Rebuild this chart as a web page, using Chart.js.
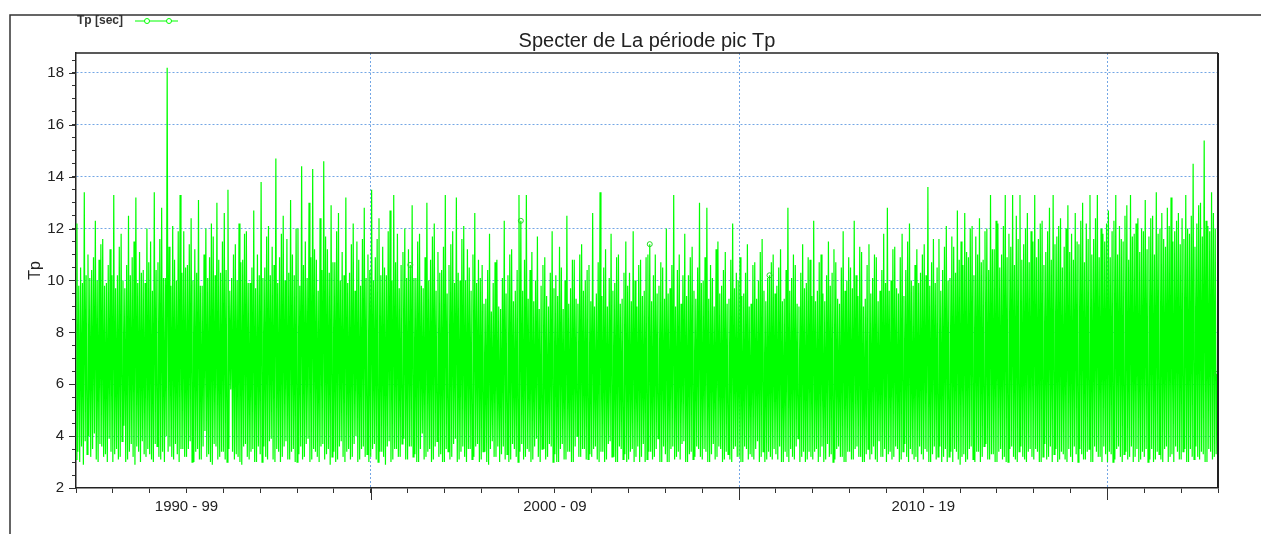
<!DOCTYPE html>
<html>
<head>
<meta charset="utf-8">
<script src="https://cdn.jsdelivr.net/npm/chart.js@4"></script>
<style>
  html, body { margin: 0; padding: 0; background: #fff; }
  #wrap { width: 1261px; height: 534px; position: relative; }
</style>
</head>
<body>
<div id="wrap"><canvas id="chartTp"></canvas></div>
<script>
// Tp series, 40 readings per year, one row per year (1992 .. 2022)
const startYear = 1992;
const endYear = 2023;
const samplesPerYear = 40;
const tpValues = [
  3.1,12.2,3.4,9.8,3.0,10.5,3.6,9.9,2.9,13.4,3.8,10.2,3.3,11.0,4.0,10.1,3.2,10.4,3.5,10.9,4.1,12.3,3.1,10.0,3.0,10.8,3.7,11.4,3.6,11.6,3.2,9.8,3.3,9.9,3.0,10.6,3.9,11.2,3.4,10.2,
  3.0,13.3,3.3,9.7,3.5,10.2,3.1,11.3,3.2,11.8,3.8,10.0,4.4,9.7,3.0,10.6,3.1,12.5,3.4,10.2,3.7,10.9,3.2,11.5,2.9,13.2,3.6,9.9,3.4,11.1,3.0,10.3,3.8,10.4,3.3,9.9,3.2,12.0,3.5,10.7,
  3.3,11.5,3.1,9.6,3.0,13.4,3.7,10.4,3.6,10.7,3.2,11.6,3.1,12.8,3.4,10.1,3.0,10.1,4.0,18.2,3.4,11.3,3.6,9.8,3.2,12.1,3.1,10.8,3.7,10.0,3.3,11.9,3.0,13.3,3.5,10.3,3.5,11.9,3.2,10.5,
  3.2,10.6,3.5,11.4,3.8,12.4,3.0,10.0,3.0,11.2,3.4,10.3,3.5,13.1,3.1,9.8,3.1,9.8,3.6,11.0,4.2,12.0,3.2,10.1,3.3,10.9,3.0,12.2,2.9,11.7,3.7,10.2,3.6,13.0,3.1,10.8,3.2,10.3,3.4,11.5,
  3.4,12.6,3.1,10.4,3.0,13.5,3.5,9.6,5.8,10.1,3.4,11.0,3.1,11.4,3.3,10.0,3.2,12.2,3.0,10.7,2.9,10.8,3.6,11.8,3.7,11.9,3.2,9.9,3.1,9.9,3.4,10.5,3.5,12.7,3.0,9.7,3.0,11.0,3.6,10.2,
  3.3,13.8,3.0,10.1,3.6,10.5,3.2,11.7,3.1,12.1,3.8,10.2,3.9,11.3,3.1,10.6,3.0,14.7,3.5,9.9,3.4,10.9,3.0,11.8,3.2,12.5,3.6,10.0,3.8,11.6,3.1,10.3,3.1,13.1,3.4,11.0,3.5,10.2,3.0,12.0,
  3.0,12.0,3.3,9.8,3.6,14.4,3.1,10.6,3.2,11.5,3.7,10.1,3.9,13.0,3.0,10.9,3.1,14.3,3.5,11.2,3.4,10.8,3.2,9.6,3.0,12.4,3.6,10.4,3.7,14.6,3.1,11.7,3.3,11.2,3.5,10.3,2.9,12.9,3.2,10.7,
  3.4,10.7,3.0,11.9,3.1,12.6,3.6,10.0,3.8,11.1,3.2,10.2,3.0,13.2,3.4,9.9,3.5,10.3,3.1,11.4,3.2,12.2,3.7,9.6,4.0,11.5,3.0,10.8,3.1,9.8,3.5,11.6,3.6,12.8,3.2,10.1,3.3,11.0,3.0,10.4,
  3.2,13.5,3.5,10.0,3.7,10.9,3.1,11.6,3.0,12.4,3.4,10.2,3.4,11.3,3.2,10.5,2.9,10.2,3.6,11.9,3.8,12.7,3.0,10.0,3.1,13.3,3.5,10.7,3.5,11.8,3.2,9.7,3.2,10.6,3.7,11.1,3.9,12.0,3.1,10.1,
  3.1,11.2,3.6,10.6,3.6,12.9,3.2,10.1,3.3,10.1,3.0,11.5,3.0,11.8,3.5,9.8,4.1,9.7,3.1,10.9,3.2,13.0,3.4,10.0,3.5,10.8,3.0,11.7,3.1,12.2,3.6,9.6,3.8,11.1,3.2,10.3,3.3,10.4,3.0,11.3,
  3.0,13.3,3.5,9.5,3.4,10.6,3.1,11.4,3.2,11.9,3.7,9.9,3.9,13.2,3.0,10.3,3.1,10.0,3.4,11.6,3.6,12.1,3.2,10.0,3.0,11.2,3.5,10.5,3.5,9.6,3.1,11.0,3.2,12.6,3.6,9.9,3.7,10.8,3.0,10.1,
  3.1,10.6,3.4,9.1,3.4,9.3,3.0,10.4,2.9,11.8,3.5,8.8,3.8,9.9,3.2,10.7,3.2,10.8,3.6,9.0,3.0,8.9,3.3,10.1,3.6,12.3,3.1,9.5,3.3,10.2,3.0,11.0,3.1,11.2,3.7,9.2,3.5,9.6,3.2,10.4,
  3.0,13.3,3.4,12.3,3.7,9.6,3.1,10.8,3.2,13.3,3.5,9.3,3.4,10.4,3.0,11.1,3.1,9.2,3.6,10.0,3.9,11.7,3.2,8.9,3.0,9.8,3.5,10.6,3.5,10.9,3.1,9.4,3.2,9.0,3.7,10.3,3.6,11.9,3.0,9.7,
  3.3,10.2,3.0,9.4,3.0,11.3,3.5,10.5,3.7,8.9,3.1,10.0,3.1,12.5,3.4,9.1,3.4,9.7,3.0,10.8,3.0,10.8,3.6,9.3,4.0,9.1,3.2,11.0,3.2,11.4,3.5,9.6,3.5,10.0,3.1,10.4,3.1,10.6,3.3,9.2,
  3.2,12.6,3.5,9.0,3.6,9.5,3.1,10.7,3.0,13.4,3.4,9.4,3.4,10.5,3.0,11.2,3.1,9.0,3.7,10.1,3.8,11.8,3.2,9.6,3.2,9.9,3.0,10.9,3.0,11.0,3.6,9.1,3.5,9.3,3.1,10.3,3.3,11.5,3.0,9.8,
  3.1,10.3,3.4,9.2,3.5,11.9,3.0,10.0,3.2,9.0,3.6,10.6,3.0,10.8,3.2,9.4,3.7,9.6,3.0,10.9,3.1,11.0,3.4,11.4,3.4,9.2,3.1,10.2,3.2,11.0,3.5,9.5,3.9,9.8,3.0,10.7,3.0,10.5,3.6,9.3,
  3.3,12.0,3.0,9.5,3.0,9.7,3.5,10.6,3.6,13.3,3.1,9.0,3.2,10.4,3.4,11.0,3.1,9.1,3.7,10.2,3.8,11.8,3.0,9.4,3.0,10.2,3.3,10.9,3.4,11.3,3.1,9.6,3.2,9.3,3.6,10.5,3.5,13.0,3.2,9.9,
  3.1,10.0,3.5,10.9,3.4,12.8,3.0,9.3,3.0,10.6,3.3,10.1,3.7,9.0,3.1,11.2,3.2,11.5,3.6,9.5,3.5,9.8,3.0,10.4,3.1,11.1,3.4,9.1,3.3,9.3,3.1,10.8,3.0,12.2,3.5,9.7,3.6,10.3,3.2,10.0,
  3.2,10.9,3.0,9.4,3.0,9.5,3.6,10.3,3.5,11.4,3.1,9.0,3.3,9.1,3.2,10.6,3.1,10.7,3.5,9.3,3.8,10.0,3.0,11.1,3.2,11.6,3.4,9.6,3.0,9.2,3.1,10.1,3.4,10.2,3.2,10.7,3.1,11.0,3.5,9.5,
  3.3,9.8,3.1,10.5,3.6,11.2,3.0,9.2,3.0,9.3,3.4,10.4,3.2,12.8,3.0,9.6,3.5,10.1,3.2,11.0,3.1,10.6,3.6,9.1,3.9,9.0,3.0,10.3,3.2,11.4,3.4,9.7,3.0,9.9,3.1,10.9,3.4,10.8,3.2,9.4,
  3.1,12.3,3.4,9.2,3.5,9.6,3.0,10.7,3.2,11.0,3.6,9.5,3.0,9.2,3.1,10.2,3.7,11.5,3.2,9.8,3.3,10.3,3.0,11.2,3.1,10.7,3.5,9.3,3.6,9.1,3.2,10.5,3.2,11.9,3.0,9.6,3.0,10.0,3.4,10.9,
  3.4,10.5,3.1,9.7,3.1,12.3,3.5,10.2,3.6,9.4,3.2,11.3,3.2,11.1,3.0,9.0,3.0,9.3,3.3,10.6,3.5,11.4,3.1,9.5,3.3,10.1,3.6,11.0,3.1,10.9,3.0,9.2,3.8,9.6,3.2,10.4,3.2,11.8,3.5,9.9,
  3.0,12.8,3.3,9.6,3.4,10.0,3.1,11.2,3.2,11.3,3.6,9.7,3.5,9.5,3.0,10.9,3.1,11.8,3.4,9.4,3.7,10.4,3.2,11.5,3.0,12.2,3.5,10.0,3.3,9.8,3.1,10.6,3.2,11.2,3.0,9.9,3.6,10.3,3.3,11.0,
  3.1,11.4,3.5,10.2,3.4,13.6,3.0,9.8,3.0,10.7,3.3,11.6,3.6,9.9,3.1,10.5,3.2,11.6,3.6,9.6,3.0,10.4,3.2,11.3,3.5,12.1,3.0,10.0,3.2,10.1,3.4,11.7,3.0,11.3,3.5,10.3,3.4,12.7,3.1,10.8,
  2.9,11.5,3.2,10.6,3.3,12.6,3.0,11.1,3.1,10.9,3.5,12.0,3.6,12.1,3.1,10.2,3.0,11.7,3.4,11.0,3.4,12.4,3.0,10.7,3.2,10.8,3.6,11.9,3.7,12.0,3.1,10.4,3.1,13.3,3.3,11.2,3.3,11.2,3.0,12.3,
  3.0,12.2,3.4,10.5,3.5,11.0,3.1,12.1,3.2,13.3,3.0,10.9,3.0,11.8,3.5,11.3,3.6,13.3,3.2,10.6,3.1,12.5,3.0,11.6,3.4,13.3,3.6,10.8,3.2,11.4,3.1,12.0,3.0,12.6,3.4,10.7,3.5,11.9,3.2,11.5,
  3.1,13.3,3.5,10.9,3.4,11.6,3.0,12.2,3.0,12.3,3.2,10.6,3.7,11.1,3.1,11.9,3.2,12.8,3.6,10.8,3.0,13.3,3.3,11.4,3.5,11.7,3.0,12.1,3.1,12.4,3.4,10.5,3.3,11.3,3.1,12.0,3.0,12.9,3.5,11.1,
  3.2,11.8,3.0,10.8,3.6,12.6,3.3,11.5,3.0,11.4,3.5,12.3,3.3,13.0,3.1,10.7,3.1,12.2,3.4,11.6,3.5,13.3,3.0,11.0,3.0,11.6,3.6,12.4,3.4,13.3,3.2,10.9,3.2,12.0,3.0,11.8,3.6,11.5,3.3,12.2,
  3.0,12.7,3.4,10.9,3.3,11.9,3.0,12.3,3.1,13.3,3.5,11.0,3.6,12.1,3.2,11.6,3.0,11.5,3.3,12.5,3.4,12.9,3.1,10.8,3.2,13.3,3.6,11.7,3.0,11.8,3.2,12.2,3.5,12.4,3.0,11.1,3.1,12.0,3.4,11.9,
  3.2,13.1,3.5,11.2,3.0,11.7,3.1,12.4,3.5,12.5,3.0,11.0,3.1,13.4,3.4,11.8,3.3,12.0,3.1,12.6,3.0,11.6,3.5,11.3,3.6,12.8,3.0,12.1,3.2,13.2,3.3,11.5,3.0,11.9,3.6,12.3,3.4,12.6,3.1,11.4,
  3.1,12.4,3.4,11.6,3.5,13.3,3.0,12.0,3.0,11.8,3.5,12.5,3.2,14.5,3.1,11.3,3.6,12.2,3.2,12.9,3.1,13.0,3.4,11.7,3.3,15.4,3.0,12.3,3.0,12.1,3.5,11.9,3.4,13.4,3.1,12.6,3.2,12.0,3.3,6.4
];
// readings that carry an open circle marker
const markerIndex = [363, 483, 623, 753, 1239];

const yMajorTicks = [2, 4, 6, 8, 10, 12, 14, 16, 18];
const xMajorYears = [2000, 2010, 2020];
const xLabelYears = [1995, 2005, 2015];
const xLabelTexts = ['1990 - 99', '2000 - 09', '2010 - 19'];
const seriesLabel = 'Tp [sec]';
const chartTitle = 'Specter de La période pic Tp';
const yAxisTitle = 'Tp';

const sampleYears = tpValues.map((v, i) => startYear + i / samplesPerYear);

const lime = '#00ff00';
const gridBlue = 'rgba(90,150,225,0.85)';
const axisInk = '#222';
const fontFam = '"Liberation Sans", Arial, sans-serif';

// frame, title, legend and the longer major ticks
const decor = {
	id: 'decor',
	afterDraw(chart) {
		const ctx = chart.ctx;
		const a = chart.chartArea;
		const xs = chart.scales.x;
		const ys = chart.scales.y;
		ctx.save();

		// outer frame
		ctx.strokeStyle = '#333';
		ctx.lineWidth = 1.5;
		ctx.beginPath();
		ctx.moveTo(10, chart.height);
		ctx.lineTo(10, 15);
		ctx.lineTo(chart.width, 15);
		ctx.stroke();

		// top and right of the plot box
		ctx.strokeStyle = axisInk;
		ctx.beginPath();
		ctx.moveTo(a.left, a.top);
		ctx.lineTo(a.right, a.top);
		ctx.stroke();
		ctx.lineWidth = 2;
		ctx.beginPath();
		ctx.moveTo(a.right, a.top);
		ctx.lineTo(a.right, a.bottom);
		ctx.stroke();

		// major ticks are longer
		ctx.lineWidth = 1;
		ctx.strokeStyle = '#333';
		ctx.beginPath();
		xMajorYears.forEach(yr => {
			const px = Math.round(xs.getPixelForValue(yr)) + 0.5;
			ctx.moveTo(px, a.bottom);
			ctx.lineTo(px, a.bottom + 12);
		});
		yMajorTicks.forEach(v => {
			const py = Math.round(ys.getPixelForValue(v)) + 0.5;
			ctx.moveTo(a.left - 7, py);
			ctx.lineTo(a.left, py);
		});
		ctx.stroke();

		// title
		ctx.fillStyle = axisInk;
		ctx.font = '20px ' + fontFam;
		ctx.textAlign = 'center';
		ctx.textBaseline = 'alphabetic';
		ctx.fillText(chartTitle, (a.left + a.right) / 2, 47);

		// legend
		ctx.font = 'bold 12px ' + fontFam;
		ctx.textAlign = 'left';
		ctx.textBaseline = 'middle';
		ctx.fillStyle = '#333';
		ctx.fillText(seriesLabel, 77, 21);
		ctx.strokeStyle = lime;
		ctx.lineWidth = 1;
		ctx.beginPath();
		ctx.moveTo(135, 21);
		ctx.lineTo(178, 21);
		ctx.stroke();
		[147, 169].forEach(cx => {
			ctx.beginPath();
			ctx.fillStyle = '#fff';
			ctx.arc(cx, 21, 2.5, 0, Math.PI * 2);
			ctx.fill();
			ctx.stroke();
		});
		ctx.restore();
	}
};

const chartDoc = document.getElementById('chartTp');
new Chart(chartDoc, {
	type: 'line',
	data: {
		labels: sampleYears,
		datasets: [
			{
				label: seriesLabel,
				data: tpValues,
				borderColor: lime,
				borderWidth: 1.2,
				tension: 0,
				pointRadius: c => markerIndex.includes(c.dataIndex) ? 2.5 : 0,
				pointBorderColor: '#22dd22',
				pointBackgroundColor: 'rgba(0,0,0,0)',
				pointBorderWidth: 1,
			},
		],
	},
	options: {
		responsive: true,
		maintainAspectRatio: false,
		animation: false,
		layout: { padding: { left: 0, right: 43, top: 53, bottom: 0 } },
		plugins: {
			legend: { display: false },
			title: { display: false },
			tooltip: { enabled: false },
		},
		scales: {
			x: {
				type: 'linear',
				min: startYear,
				max: endYear,
				afterBuildTicks: s => {
					const t = [];
					for (let yr = startYear; yr <= endYear; yr++) t.push({ value: yr });
					s.ticks = t;
				},
				afterFit: s => { s.height = 46; },
				ticks: {
					autoSkip: false,
					maxRotation: 0,
					padding: 5,
					color: axisInk,
					font: { family: fontFam, size: 15 },
					callback: v => {
						const k = xLabelYears.indexOf(v);
						return k >= 0 ? xLabelTexts[k] : '';
					},
				},
				grid: {
					color: c => (c.tick && xMajorYears.includes(c.tick.value)) ? gridBlue : 'rgba(0,0,0,0)',
					lineWidth: 1,
					tickColor: '#333',
					tickLength: 5,
				},
				border: { color: axisInk, width: 1.5, dash: [2, 2] },
			},
			y: {
				min: 2,
				max: 18.77,
				afterBuildTicks: s => {
					const t = [];
					for (let v = 2; v <= 18.5; v += 0.5) t.push({ value: v });
					s.ticks = t;
				},
				afterFit: s => { s.width = 76; },
				ticks: {
					autoSkip: false,
					padding: 8,
					color: axisInk,
					font: { family: fontFam, size: 15 },
					callback: v => yMajorTicks.includes(v) ? String(v) : '',
				},
				grid: {
					color: c => (c.tick && c.tick.value > 2 && yMajorTicks.includes(c.tick.value)) ? gridBlue : 'rgba(0,0,0,0)',
					lineWidth: 1,
					tickColor: '#333',
					tickLength: 4,
				},
				border: { color: axisInk, width: 1.5, dash: [2, 2] },
				title: {
					display: true,
					text: yAxisTitle,
					color: axisInk,
					font: { family: fontFam, size: 16 },
					padding: { top: 26 },
				},
			},
		},
	},
	plugins: [decor],
});
</script>
</body>
</html>
